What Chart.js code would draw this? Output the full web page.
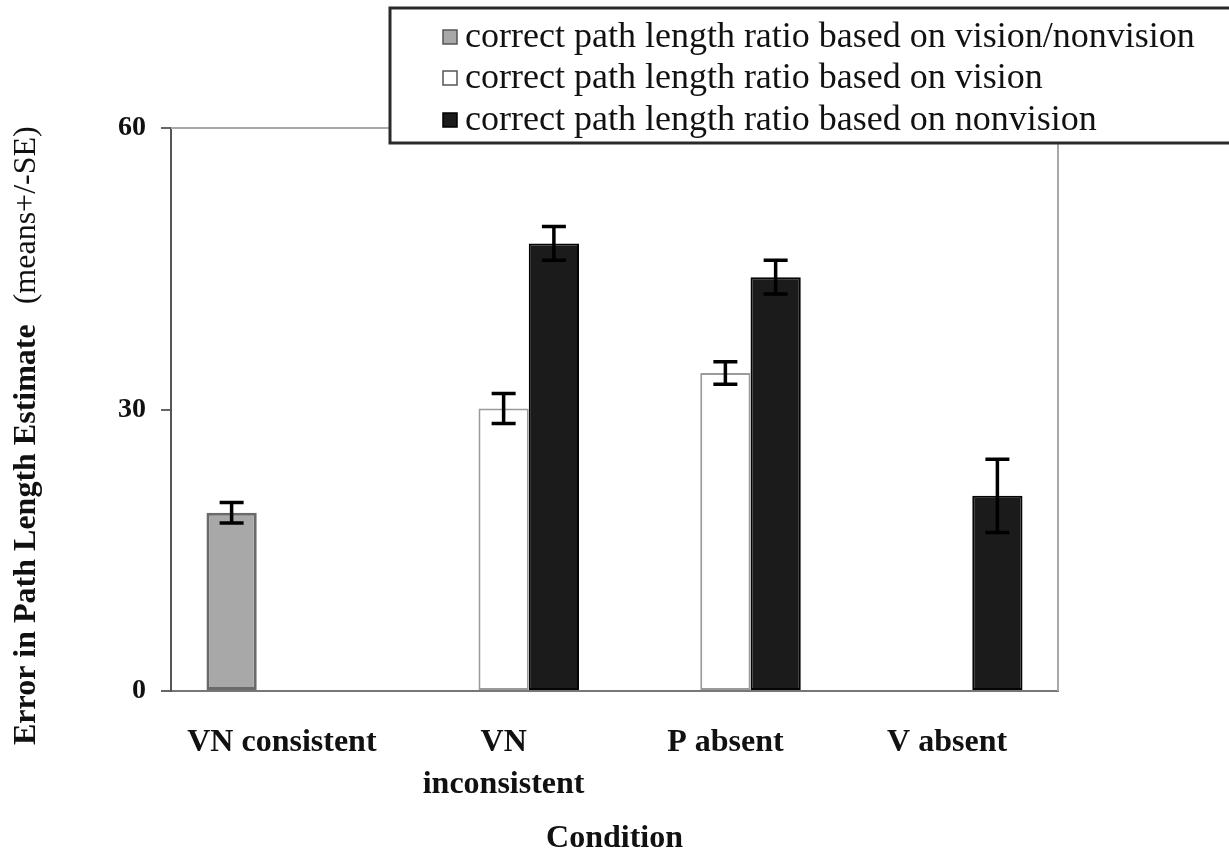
<!DOCTYPE html>
<html>
<head>
<meta charset="utf-8">
<title>Error in Path Length Estimate by Condition</title>
<script src="https://cdn.jsdelivr.net/npm/chart.js@4.4.1/dist/chart.umd.min.js"></script>
<style>
  html, body { margin: 0; padding: 0; background: #ffffff; }
  #wrap { width: 1229px; height: 857px; }
</style>
</head>
<body>
<div id="wrap"><canvas id="chart" width="1229" height="857"></canvas></div>
<script>
// Conditions along the x axis
const categories = ["VN consistent", ["VN", "inconsistent"], "P absent", "V absent"];

// Series labels
const seriesLabels = [
  "correct path length ratio based on vision/nonvision",
  "correct path length ratio based on vision",
  "correct path length ratio based on nonvision"
];

// Mean error per condition (null = not measured in that condition)
const visionNonvisionMeans = [19.0, null, null, null];
const visionMeans          = [null, 30.1, 33.9, null];
const nonvisionMeans       = [null, 47.7, 44.1, 20.8];

// Standard errors
const visionNonvisionSE = [1.1, null, null, null];
const visionSE          = [null, 1.6, 1.2, null];
const nonvisionSE       = [null, 1.8, 1.8, 3.9];

// Y axis ticks
const yTicks = [0, 30, 60];

const SERIF = '"Liberation Serif", "Times New Roman", Times, serif';

const seriesStyles = [
  { fill: '#a8a8a8', border: '#6a6a6a', width: 3 },
  { fill: '#ffffff', border: '#9a9a9a', width: 2 },
  { fill: '#1b1b1b', border: '#050505', width: 2 }
];

const errorsBySeries = [visionNonvisionSE, visionSE, nonvisionSE];

// Error bars drawn over each bar, from the dataset's SE array
const errorBarPlugin = {
  id: 'errorBars',
  afterDatasetsDraw(chart) {
    const ctx = chart.ctx;
    const y = chart.scales.y;
    ctx.save();
    ctx.strokeStyle = '#000000';
    ctx.lineWidth = 3.5;
    chart.data.datasets.forEach((ds, di) => {
      const meta = chart.getDatasetMeta(di);
      const se = errorsBySeries[di];
      meta.data.forEach((bar, i) => {
        const v = ds.data[i];
        if (v === null || v === undefined || se[i] == null) return;
        const x = bar.x;
        const yTop = y.getPixelForValue(v + se[i]);
        const yBot = y.getPixelForValue(v - se[i]);
        const cap = 12;
        ctx.beginPath();
        ctx.moveTo(x, yTop); ctx.lineTo(x, yBot);
        ctx.moveTo(x - cap, yTop); ctx.lineTo(x + cap, yTop);
        ctx.moveTo(x - cap, yBot); ctx.lineTo(x + cap, yBot);
        ctx.stroke();
      });
    });
    ctx.restore();
  }
};

// Light frame on the top and right of the plot area
const framePlugin = {
  id: 'frame',
  beforeDatasetsDraw(chart) {
    const { ctx, chartArea: a } = chart;
    ctx.save();
    ctx.strokeStyle = '#a8a8a8';
    ctx.lineWidth = 2;
    ctx.beginPath();
    ctx.moveTo(a.left, a.top);
    ctx.lineTo(a.right, a.top);
    ctx.lineTo(a.right, a.bottom);
    ctx.stroke();
    ctx.restore();
  }
};

// Y axis title: bold main part followed by the regular "(means+/-SE)"
const yTitlePlugin = {
  id: 'yTitle',
  afterDraw(chart) {
    const ctx = chart.ctx;
    ctx.save();
    ctx.translate(27, 745);
    ctx.rotate(-Math.PI / 2);
    ctx.fillStyle = '#111111';
    ctx.textAlign = 'left';
    ctx.textBaseline = 'middle';
    ctx.font = 'bold 32px ' + SERIF;
    const main = 'Error in Path Length Estimate';
    ctx.fillText(main, 0, 0);
    const w = ctx.measureText(main).width;
    ctx.font = '32px ' + SERIF;
    ctx.fillText('(means+/-SE)', w + 20, 0);
    ctx.restore();
  }
};

// Boxed legend in the upper right, overlapping the top of the plot
const boxLegendPlugin = {
  id: 'boxLegend',
  afterDraw(chart) {
    const ctx = chart.ctx;
    const boxL = 390, boxT = 8, boxB = 143, boxR = 1240;
    ctx.save();
    ctx.fillStyle = '#ffffff';
    ctx.fillRect(boxL, boxT, boxR - boxL, boxB - boxT);
    ctx.strokeStyle = '#2a2a2a';
    ctx.lineWidth = 3;
    ctx.strokeRect(boxL, boxT, boxR - boxL, boxB - boxT);
    ctx.font = '36px ' + SERIF;
    ctx.textAlign = 'left';
    ctx.textBaseline = 'middle';
    const rows = [38, 79, 121];
    chart.data.datasets.forEach((ds, i) => {
      const cy = rows[i];
      const st = seriesStyles[i];
      ctx.fillStyle = st.fill;
      ctx.fillRect(443, cy - 8, 14, 14);
      ctx.strokeStyle = i === 2 ? '#000000' : '#555555';
      ctx.lineWidth = 1.5;
      ctx.strokeRect(443, cy - 8, 14, 14);
      ctx.fillStyle = '#111111';
      ctx.fillText(ds.label, 465, cy);
    });
    ctx.restore();
  }
};

const meansBySeries = [visionNonvisionMeans, visionMeans, nonvisionMeans];

const datasets = meansBySeries.map((vals, i) => ({
  label: seriesLabels[i],
  data: vals,
  backgroundColor: seriesStyles[i].fill,
  borderColor: seriesStyles[i].border,
  borderWidth: seriesStyles[i].width,
  borderSkipped: false,
  categoryPercentage: 0.68,
  barPercentage: 1.0
}));

new Chart(document.getElementById('chart'), {
  type: 'bar',
  data: { labels: categories, datasets },
  options: {
    responsive: false,
    animation: false,
    events: [],
    layout: { padding: { left: 0, top: 128, right: 171, bottom: 0 } },
    plugins: {
      legend: { display: false },
      tooltip: { enabled: false }
    },
    scales: {
      x: {
        grid: { display: false, drawTicks: false },
        border: { display: true, color: '#777777', width: 2 },
        ticks: {
          color: '#111111',
          padding: 31,
          maxRotation: 0,
          autoSkip: false,
          font: { family: SERIF, size: 32, weight: 'bold', lineHeight: 1.3 }
        },
        title: {
          display: true,
          text: 'Condition',
          color: '#111111',
          padding: { top: 0, bottom: 1 },
          font: { family: SERIF, size: 32, weight: 'bold', lineHeight: 1.1 }
        },
        afterFit(scale) { scale.height = 166; }
      },
      y: {
        min: 0,
        max: 60,
        afterBuildTicks(scale) { scale.ticks = yTicks.map(v => ({ value: v })); },
        grid: {
          display: true,
          drawOnChartArea: false,
          drawTicks: true,
          tickLength: 10,
          tickColor: '#666666',
          lineWidth: 2
        },
        border: { display: true, color: '#555555', width: 2 },
        ticks: {
          color: '#111111',
          padding: 15,
          font: { family: SERIF, size: 28, weight: 'bold' }
        },
        afterFit(scale) { scale.width = 171; }
      }
    }
  },
  plugins: [framePlugin, errorBarPlugin, yTitlePlugin, boxLegendPlugin]
});
</script>
</body>
</html>
